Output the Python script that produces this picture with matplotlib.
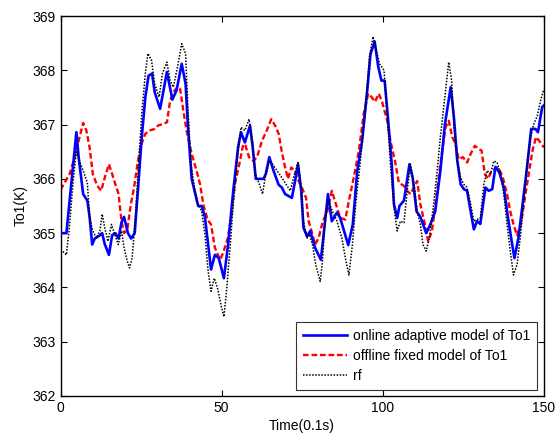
import matplotlib
matplotlib.use("Agg")
import matplotlib.pyplot as plt

plt.rcParams['font.family'] = ['Liberation Sans', 'DejaVu Sans']

# online adaptive model (blue)
x_on = [0, 1.8, 4.9, 5.6, 7.0, 8.3, 9.0, 9.8, 10.6, 12.2, 12.9, 13.7, 15.0, 16.0, 17.0, 18.0,
        18.9, 19.7, 20.9, 21.9, 23.0, 24.0, 25.1, 26.3, 27.3, 28.4, 29.2, 30.9, 33.0, 34.7,
        36.0, 37.6, 38.8, 39.6, 40.7, 42.7, 43.8, 44.8, 46.7, 47.9, 49.1, 50.7, 52.0, 53.6,
        55.1, 56.0, 57.2, 58.8, 59.6, 60.6, 63.0, 63.7, 64.8, 66.1, 67.7, 68.7, 69.7, 71.8,
        72.8, 73.7, 74.7, 75.4, 76.5, 77.5, 79.0, 80.8, 82.0, 83.0, 84.2, 85.8, 86.8, 89.3,
        90.7, 92.1, 93.6, 95.2, 96.2, 97.5, 98.6, 99.6, 100.6, 101.7, 102.8, 103.5, 104.5,
        105.2, 106.6, 108.3, 109.3, 110.5, 111.7, 113.5, 114.8, 116.3, 117.9, 119.3, 121.1,
        122.1, 123.1, 124.2, 125.2, 126.2, 127.3, 128.3, 129.3, 130.3, 131.9, 132.9, 134.0,
        135.0, 136.2, 137.6, 138.9, 140.2, 140.9, 142.1, 143.3, 144.8, 146.1, 147.4, 148.2,
        149.5, 150]
y_on = [365.0, 365.0, 366.86, 366.4, 365.72, 365.6, 365.3, 364.79, 364.9, 364.96, 365.0,
        364.8, 364.6, 364.96, 365.0, 364.9, 365.2, 365.3, 365.0, 364.9, 365.0, 365.78, 366.7,
        367.5, 367.9, 367.94, 367.6, 367.29, 367.97, 367.46, 367.63, 368.12, 367.75, 366.9,
        366.0, 365.5, 365.5, 365.3, 364.33, 364.6, 364.54, 364.17, 364.79, 365.78, 366.58,
        366.86, 366.67, 366.98, 366.6, 366.0, 366.0, 366.09, 366.4, 366.15, 365.89, 365.84,
        365.72, 365.65, 365.96, 366.27, 365.78, 365.1, 364.94, 365.04, 364.73, 364.51, 365.16,
        365.72, 365.22, 365.38, 365.28, 364.78, 365.16, 366.15, 366.7, 367.63, 368.3, 368.53,
        368.07, 367.81, 367.81, 367.07, 366.27, 365.53, 365.28, 365.5, 365.6, 366.27, 366.02,
        365.4, 365.3, 365.0, 365.16, 365.4, 366.15, 367.0, 367.69, 367.14, 366.36, 365.9,
        365.81, 365.78, 365.4, 365.07, 365.22, 365.17, 365.84, 365.78, 365.81, 366.22, 366.12,
        365.84, 365.28, 364.79, 364.54, 364.9, 365.47, 366.21, 366.92, 366.92, 366.86, 367.32,
        367.35]

# offline fixed model (red)
x_off = [0, 2.8, 4.4, 5.6, 7.0, 8.0, 9.0, 10.0, 11.4, 12.6, 13.7, 15.0, 16.0, 17.0, 18.0,
         18.9, 19.7, 20.7, 21.8, 22.8, 24.0, 25.1, 26.3, 27.6, 29.2, 30.2, 33.0, 34.0, 35.0,
         36.3, 37.1, 38.1, 39.1, 40.7, 42.2, 43.3, 44.3, 45.6, 46.7, 47.9, 49.5, 50.5, 51.9,
         52.9, 54.1, 55.7, 56.7, 57.4, 58.5, 59.8, 61.0, 62.5, 64.0, 65.4, 66.6, 67.7, 68.7,
         69.7, 70.6, 71.6, 72.6, 73.9, 74.9, 76.2, 77.0, 77.9, 79.0, 80.1, 81.4, 82.7, 84.2,
         85.5, 86.8, 88.4, 89.5, 91.0, 92.6, 94.1, 95.5, 96.5, 97.6, 98.8, 99.8, 101.4, 102.4,
         103.8, 105.0, 106.6, 107.6, 108.6, 109.7, 110.7, 111.7, 113.1, 114.1, 115.3, 116.6,
         117.9, 119.5, 120.5, 121.6, 122.6, 123.6, 124.9, 126.2, 127.3, 128.6, 129.8, 130.7,
         131.7, 132.7, 133.8, 134.8, 136.0, 137.3, 138.6, 139.6, 140.6, 141.7, 143.0, 144.3,
         145.5, 146.5, 147.6, 148.6, 150]
y_off = [365.8, 366.09, 366.4, 366.7, 367.03, 366.89, 366.58, 366.09, 365.87, 365.78, 366.02,
         366.27, 366.09, 365.9, 365.72, 365.22, 365.0, 365.07, 365.53, 365.84, 366.33, 366.64,
         366.83, 366.89, 366.92, 366.98, 367.04, 367.44, 367.6, 367.69, 367.66, 367.26, 366.89,
         366.46, 366.15, 365.9, 365.53, 365.25, 365.16, 364.73, 364.51, 364.64, 364.91, 365.28,
         365.9, 366.33, 366.64, 366.61, 366.4, 366.33, 366.4, 366.7, 366.89, 367.1, 366.98,
         366.83, 366.49, 366.21, 366.0, 366.21, 366.15, 365.96, 365.84, 365.65, 365.22, 365.04,
         364.79, 364.91, 365.22, 365.38, 365.78, 365.53, 365.28, 365.25, 365.6, 366.02, 366.52,
         367.2, 367.57, 367.51, 367.42, 367.57, 367.42, 367.07, 366.7, 366.33, 365.93, 365.87,
         365.78, 365.72, 365.84, 365.96, 365.53, 365.16, 364.85, 365.04, 365.65, 366.27, 366.95,
         367.07, 366.77, 366.64, 366.36, 366.4, 366.3, 366.46, 366.61, 366.55, 366.52, 366.09,
         366.0, 366.15, 366.18, 366.21, 366.02, 365.72, 365.4, 365.16, 364.96, 365.19, 365.72,
         366.15, 366.52, 366.77, 366.7, 366.58]

# rf (black dotted)
x_rf = [0, 1.8, 2.8, 3.9, 4.9, 6.0, 7.0, 8.3, 9.0, 10.0, 11.1, 12.2, 12.9, 13.7, 14.7, 15.8,
        16.8, 17.9, 18.9, 19.7, 20.7, 21.4, 22.2, 23.2, 24.2, 25.2, 26.3, 27.1, 28.2, 29.2,
        30.6, 31.6, 33.0, 34.0, 35.0, 36.3, 37.6, 38.8, 39.6, 40.5, 41.7, 42.7, 43.8, 44.8,
        45.8, 46.7, 47.7, 48.7, 50.0, 50.7, 51.5, 52.6, 53.6, 55.0, 56.0, 57.2, 58.5, 59.6,
        60.4, 61.7, 62.7, 63.5, 64.8, 65.8, 67.2, 68.7, 70.3, 71.3, 72.3, 73.7, 74.7, 75.4,
        76.5, 77.2, 78.2, 79.2, 80.6, 81.3, 82.1, 83.1, 84.4, 85.8, 87.3, 88.6, 89.5, 90.6,
        91.6, 93.2, 94.7, 95.9, 97.0, 98.0, 99.0, 100.4, 101.4, 102.4, 103.5, 104.5, 105.5,
        106.6, 107.6, 108.6, 109.7, 110.7, 111.7, 112.5, 113.5, 114.5, 115.8, 116.9, 117.9,
        119.3, 120.5, 121.4, 122.1, 123.1, 124.2, 125.2, 126.2, 127.3, 128.3, 129.3, 130.3,
        131.4, 132.4, 133.5, 134.5, 135.5, 136.6, 137.6, 138.6, 139.6, 140.6, 141.7, 142.7,
        143.8, 144.8, 145.9, 146.9, 148.0, 149.0, 150]
y_rf = [364.7, 364.6, 365.16, 365.96, 366.52, 366.3, 366.15, 365.93, 365.28, 365.04, 364.91,
        365.04, 365.35, 365.1, 364.85, 365.16, 364.98, 364.79, 365.04, 364.73, 364.48, 364.36,
        364.54, 365.28, 366.27, 367.2, 367.94, 368.31, 368.19, 367.75, 367.51, 367.94, 368.15,
        367.81, 367.69, 368.06, 368.49, 368.31, 367.2, 366.27, 365.78, 365.53, 365.4, 364.98,
        364.3, 363.93, 364.17, 363.99, 363.62, 363.46, 363.93, 364.73, 365.53, 366.46, 366.95,
        366.89, 367.1, 366.68, 366.09, 365.9, 365.72, 366.02, 366.33, 366.27, 366.15, 366.02,
        365.87, 365.78, 366.02, 366.3, 365.84, 365.22, 364.91, 364.98, 364.79, 364.42, 364.11,
        364.48, 365.28, 365.6, 365.4, 365.22, 364.91, 364.48, 364.23, 364.79, 365.53, 366.4,
        367.32, 368.25, 368.62, 368.37, 368.12, 368.0, 367.2, 366.27, 365.47, 365.04, 365.22,
        365.19, 365.78, 366.27, 365.9, 365.4, 365.16, 364.79, 364.67, 364.91, 365.53, 366.15,
        366.77, 367.51, 368.15, 367.81, 367.01, 366.33, 366.02, 365.9, 365.84, 365.53, 365.22,
        365.25, 365.28, 365.9, 366.15, 366.09, 366.33, 366.3, 366.09, 365.72, 365.16, 364.67,
        364.23, 364.42, 364.91, 365.59, 366.27, 366.77, 367.01, 367.16, 367.44, 367.65]

labels = ['online adaptive model of To1', 'offline fixed model of To1', 'rf']
x_ticks = [0, 50, 100, 150]
y_ticks = [362, 363, 364, 365, 366, 367, 368, 369]

fig = plt.figure(figsize=(5.56, 4.34), dpi=100)
ax = fig.add_axes([0.109, 0.0876, 0.869, 0.8755])

ax.plot(x_on, y_on, color='#0000ff', lw=1.9, label=labels[0], zorder=3)
ax.plot(x_off, y_off, color='#ff0000', lw=1.7, linestyle=(0, (2.4, 1.2)), label=labels[1], zorder=2)
ax.plot(x_rf, y_rf, color='black', lw=1.1, linestyle=(0, (1, 1)), label=labels[2], zorder=4)

ax.set_xlim(0, 150)
ax.set_ylim(362, 369)
ax.set_xticks(x_ticks)
ax.set_yticks(y_ticks)
ax.tick_params(direction='in', top=True, right=True, length=4, width=0.8, labelsize=10,
               colors='black')
for s in ax.spines.values():
    s.set_linewidth(1.0)
ax.set_xlabel('Time(0.1s)', fontsize=10, labelpad=3)
ax.set_ylabel('To1(K)', fontsize=10, labelpad=3)

leg = ax.legend(loc='lower right', bbox_to_anchor=(0.9855, 0.0158), borderaxespad=0,
                fontsize=10, frameon=True, fancybox=False, edgecolor='black',
                handlelength=3.2, handletextpad=0.4, labelspacing=0.45, borderpad=0.5)
leg.get_frame().set_linewidth(0.8)

fig.savefig('out.png', dpi=100)
